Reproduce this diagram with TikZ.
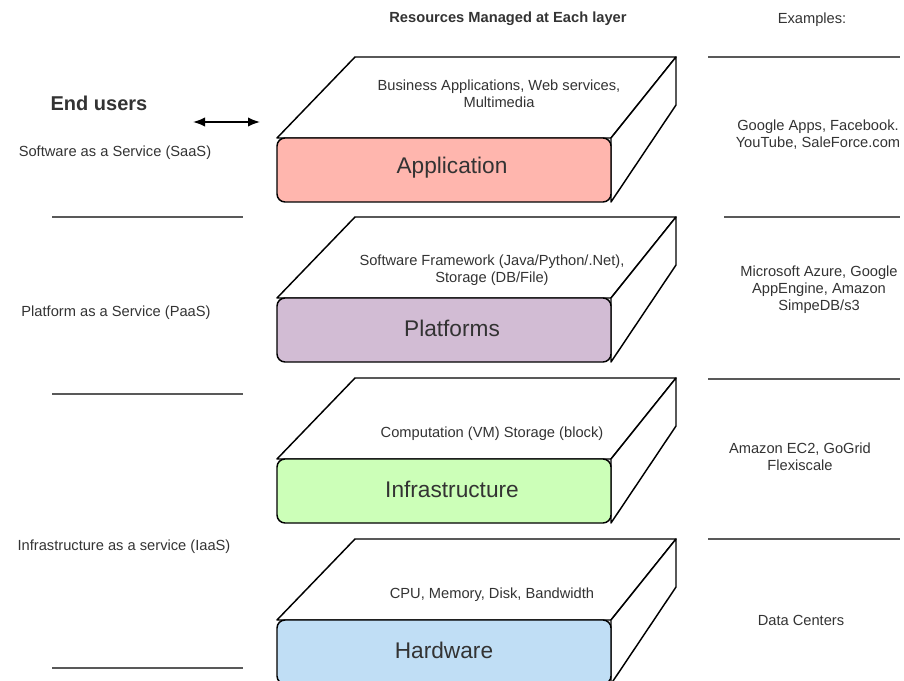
\documentclass[tikz,border=0pt]{standalone}
\usepackage{fontspec}
\setmainfont{Liberation Sans}
\usetikzlibrary{arrows.meta}

\definecolor{appfill}{HTML}{FFB6AE}
\definecolor{platfill}{HTML}{D2BCD4}
\definecolor{infrafill}{HTML}{CCFFB8}
\definecolor{hwfill}{HTML}{C0DEF5}
\definecolor{txtgray}{HTML}{333333}

\begin{document}
\begin{tikzpicture}[x=0.75pt, y=-0.75pt,
    every node/.style={text=txtgray, align=center, font=\fontsize{11}{12.6}\selectfont},
    face/.style={draw=black, line width=1.1pt, line join=round},
    sep/.style={draw=black!65, line width=0.8pt}]

  % Page frame
  \clip (0,0) rectangle (904,681);

  % Headers
  \node (head) at (508,19) {\bfseries Resources Managed at Each layer};
  \node (exhead) at (812,20) {Examples:};

  % Layer blocks
  \foreach \y/\col/\lab/\lx/\res/\rx/\ry [count=\i] in {
      57/appfill/Application/452/{Business Applications, Web services,\\Multimedia}/499/37,
      217/platfill/Platforms/452/{Software Framework (Java/Python/.Net),\\Storage (DB/File)}/492/53,
      378/infrafill/Infrastructure/452/{Computation (VM) Storage (block)}/492/56,
      539/hwfill/Hardware/444/{CPU, Memory, Disk, Bandwidth}/492/56} {
    \draw[face, fill=white] (277,\y+81) -- (355,\y) -- (676,\y) -- (611,\y+81) -- cycle;
    \draw[face, fill=white] (611,\y+81) -- (676,\y) -- (676,\y+48) -- (611,\y+145) -- cycle;
    \draw[face, fill=\col, rounded corners=6] (277,\y+81) rectangle (611,\y+145);
    \node (lay-\i) at (\lx,\y+111) {\fontsize{17}{20}\selectfont \lab};
    \node (res-\i) at (\rx,\y+\ry) {\res};
  }

  % End users
  \node[font=\bfseries\fontsize{15}{18}\selectfont] (users) at (99,103) {End users};
  \coordinate (usr-l) at (193,122);
  \coordinate (usr-r) at (260,122);
  \draw[{Latex[length=9pt,width=7pt]}-{Latex[length=9pt,width=7pt]}, line width=1.2pt] (usr-l) -- (usr-r);

  % Service models
  \node (saas) at (115,153) {Software as a Service (SaaS)};
  \node (paas) at (116,313) {Platform as a Service (PaaS)};
  \node (iaas) at (124,547) {Infrastructure as a service (IaaS)};
  \draw[sep] (52,217) -- (243,217);
  \draw[sep] (52,394) -- (243,394);
  \draw[sep] (52,668) -- (243,668);

  % Examples
  \node (ex-1) at (818,135) {Google Apps, Facebook.\\YouTube, SaleForce.com};
  \node (ex-2) at (819,290) {Microsoft Azure, Google\\AppEngine, Amazon\\SimpeDB/s3};
  \node (ex-3) at (800,457) {Amazon EC2, GoGrid\\Flexiscale};
  \node (ex-4) at (801,620) {Data Centers};
  \draw[sep] (708,57) -- (900,57);
  \draw[sep] (724,217) -- (900,217);
  \draw[sep] (708,379) -- (900,379);
  \draw[sep] (708,539) -- (900,539);
\end{tikzpicture}
\end{document}
